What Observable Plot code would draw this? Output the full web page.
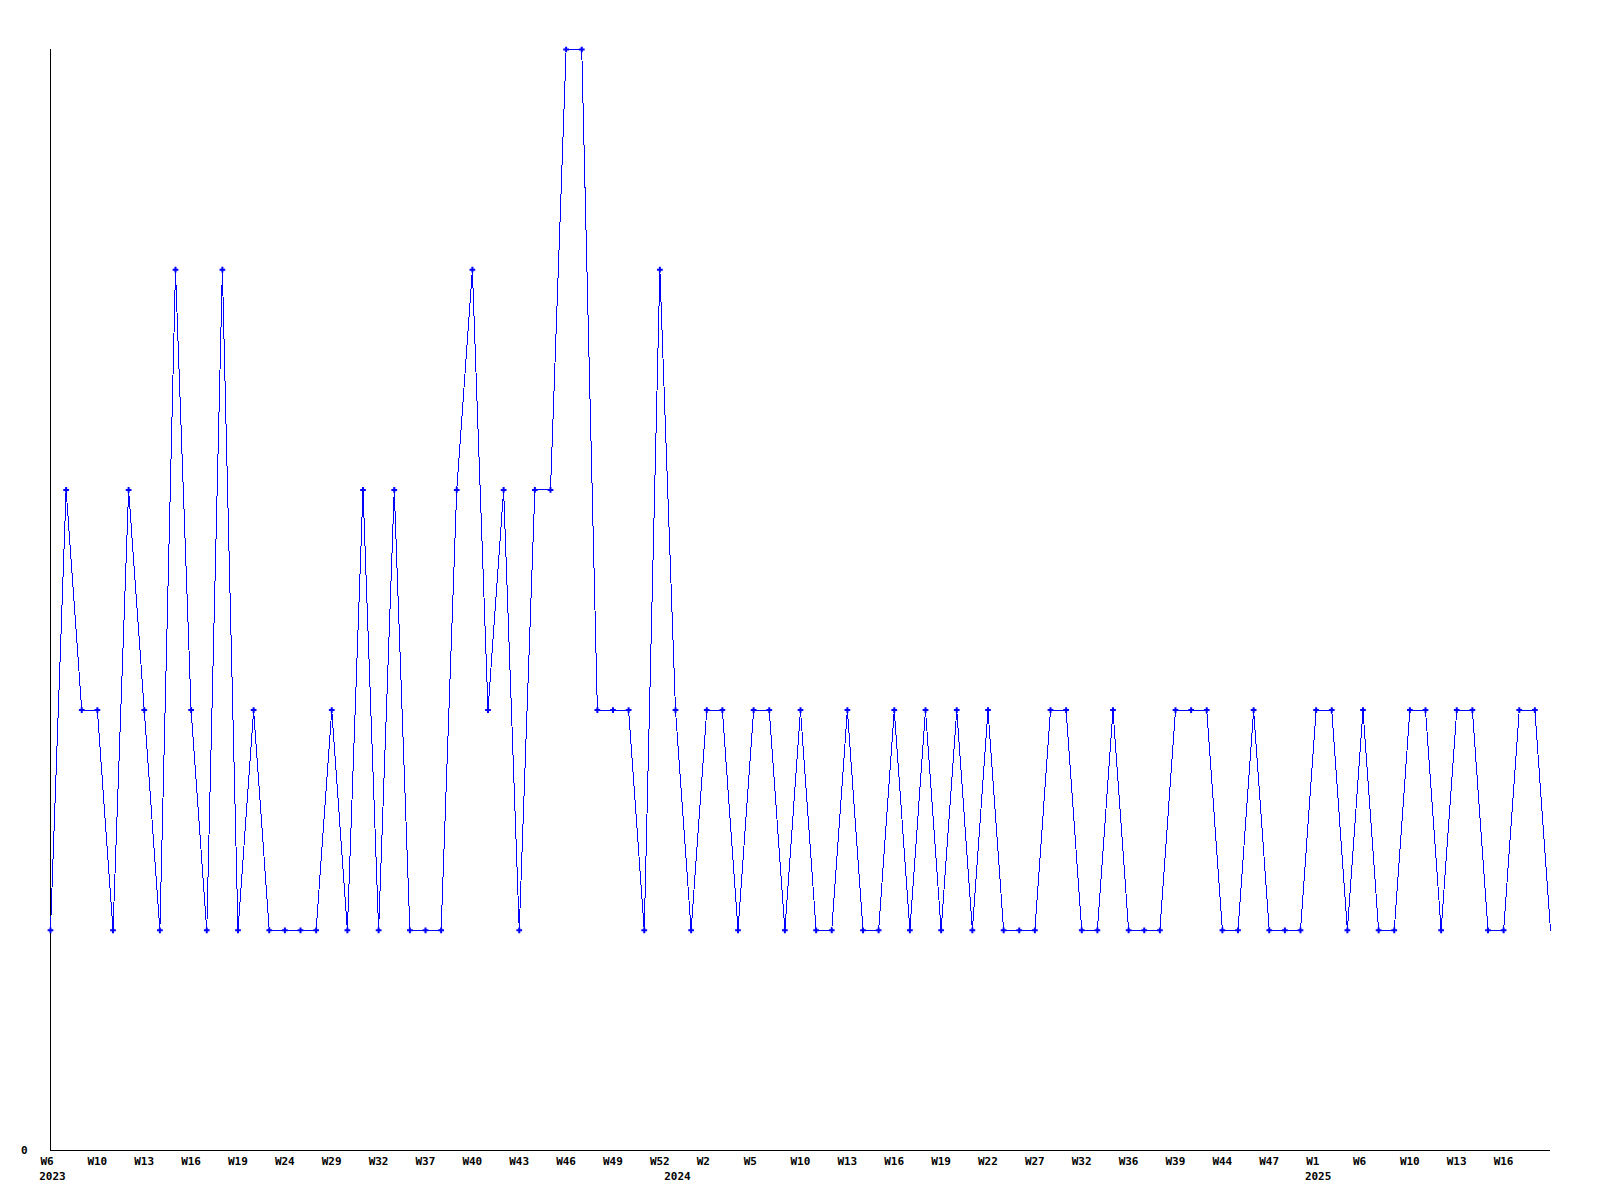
<!DOCTYPE html>
<html>
<head>
<meta charset="utf-8">
<script src="https://cdn.jsdelivr.net/npm/d3@7"></script>
<script src="https://cdn.jsdelivr.net/npm/@observablehq/plot@0.6"></script>
<style>
  html, body { margin: 0; padding: 0; background: #fff; }
</style>
</head>
<body>
<div id="chart"></div>
<script>
// Week label of every point (categorical, evenly spaced)
const weeks = [
  "W6","W7","W8","W10","W11","W12","W13","W14","W15","W16",
  "W17","W18","W19","W20","W22","W24","W26","W27","W29","W30",
  "W31","W32","W34","W35","W37","W38","W39","W40","W41","W42",
  "W43","W44","W45","W46","W47","W48","W49","W50","W51","W52",
  "W0","W1","W2","W3","W4","W5","W7","W9","W10","W11",
  "W12","W13","W14","W15","W16","W17","W18","W19","W20","W21",
  "W22","W24","W25","W27","W29","W30","W32","W33","W35","W36",
  "W37","W38","W39","W41","W43","W44","W45","W46","W47","W49",
  "W51","W1","W3","W5","W6","W7","W9","W10","W11","W12",
  "W13","W14","W15","W16","W17","W18","W19"
];
// Year of every point
const years = [
  ...Array(40).fill("2023"),
  ...Array(41).fill("2024"),
  ...Array(16).fill("2025")
];
// Series values
const values = [
  1,3,2,2,1,3,2,1,4,2,
  1,4,1,2,1,1,1,1,2,1,
  3,1,3,1,1,1,3,4,2,3,
  1,3,3,5,5,2,2,2,1,4,
  2,1,2,2,1,2,2,1,2,1,
  1,2,1,1,2,1,2,1,2,1,
  2,1,1,1,2,2,1,1,2,1,
  1,1,2,2,2,1,1,2,1,1,
  1,2,2,1,2,1,1,2,2,1,
  2,2,1,1,2,2,1
];
const yTicks = [0];

const data = values.map((v, i) => ({i, week: weeks[i], year: years[i], v}));
const last = values.length - 1;
const tickIdx = data.filter(d => d.i % 3 === 0 && d.i < last).map(d => d.i);
const yearStarts = data.filter((d, k) => k === 0 || years[k - 1] !== d.year).map(d => d.i);
const blue = "#0000ff";

const chart = Plot.plot({
  width: 1600,
  height: 1200,
  marginLeft: 50,
  marginRight: 50,
  marginTop: 49,
  marginBottom: 50,
  style: {fontFamily: "'DejaVu Sans Mono', monospace", fontWeight: "bold", fontSize: "11px", background: "#fff", color: "#000"},
  x: {type: "linear", domain: [0, last], axis: null},
  y: {domain: [0, 5], axis: null},
  marks: [
    Plot.ruleY([0], {stroke: "#000", strokeWidth: 1, shapeRendering: "crispEdges"}),
    Plot.ruleX([0], {stroke: "#000", strokeWidth: 1, shapeRendering: "crispEdges"}),
    Plot.line(data, {x: "i", y: "v", stroke: blue, strokeWidth: 1, shapeRendering: "crispEdges"}),
    Plot.dot(data.slice(0, -1), {x: "i", y: "v", symbol: "plus", r: 2, stroke: blue, strokeWidth: 2}),
    Plot.text(yTicks, {y: d => d, text: d => String(d), frameAnchor: "left", textAnchor: "end", dx: -23, fill: "#000"}),
    Plot.text(tickIdx, {x: d => d, text: d => weeks[d], frameAnchor: "bottom", textAnchor: "start", dx: -10, dy: 14, fill: "#000"}),
    Plot.text(yearStarts, {x: d => d, text: d => years[d], frameAnchor: "bottom", textAnchor: "middle", dx: 2, dy: 29, fill: "#000"})
  ]
});
document.getElementById("chart").appendChild(chart);
</script>
</body>
</html>
